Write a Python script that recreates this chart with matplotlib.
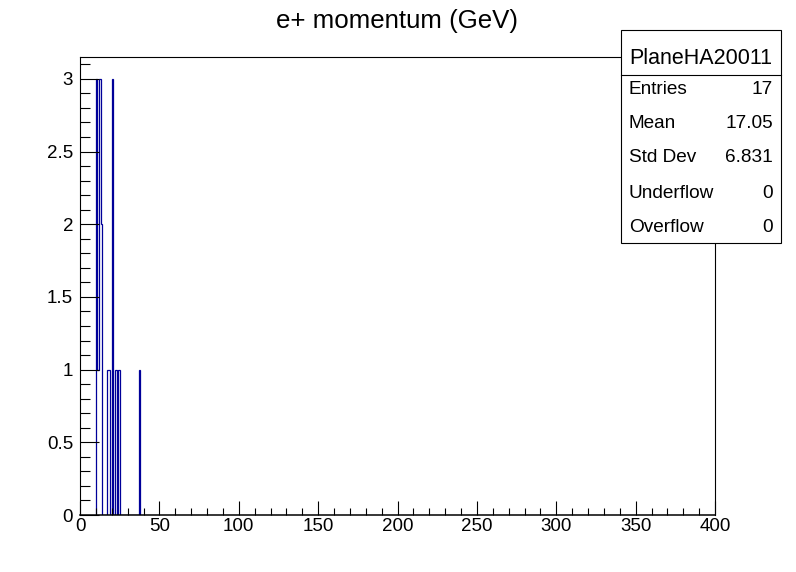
import numpy as np
import matplotlib
matplotlib.use('Agg')
import matplotlib.pyplot as plt
from matplotlib.patches import Rectangle
from matplotlib.lines import Line2D
from matplotlib.ticker import MultipleLocator

plt.rcParams['font.family'] = ['Liberation Sans', 'DejaVu Sans']

# Histograma: 400 bins de 1 GeV entre 0 y 400
bin_low = [10, 11, 12, 13, 17, 18, 20, 22, 24, 37]
counts = [3, 1, 3, 2, 1, 1, 3, 1, 1, 1]
n_bins, x_min, x_max = 400, 0, 400

title = 'e+ momentum (GeV)'
stat_name = 'PlaneHA20011'
stat_labels = ['Entries', 'Mean', 'Std Dev', 'Underflow', 'Overflow']
stat_values = ['17', '17.05', '6.831', '0', '0']

W, H = 796, 572
fig = plt.figure(figsize=(W / 100, H / 100), dpi=100)

def fx(px):
    return px / W

def fy(py):
    return 1 - py / H

ax = fig.add_axes([fx(80), fy(515), fx(715) - fx(80), fy(57) - fy(515)])

edges = np.linspace(x_min, x_max, n_bins + 1)
h = np.zeros(n_bins)
for b, c in zip(bin_low, counts):
    h[b] = c
# solo el tramo con contenido, para no pintar la linea base sobre el eje
i0, i1 = min(bin_low), max(bin_low) + 1
ax.stairs(h[i0:i1], edges[i0:i1 + 1], color='#000099', lw=0.9, zorder=1)

ax.set_xlim(x_min, x_max)
ax.set_ylim(0, max(counts) * 1.05)

ax.xaxis.set_major_locator(MultipleLocator(50))
ax.xaxis.set_minor_locator(MultipleLocator(10))
ax.yaxis.set_major_locator(MultipleLocator(0.5))
ax.yaxis.set_minor_locator(MultipleLocator(0.1))
ax.yaxis.set_major_formatter(plt.FuncFormatter(lambda v, p: f'{v:g}'))

ax.tick_params(axis='both', which='both', direction='in', top=False, right=False,
               width=0.8, labelsize=13.5)
ax.tick_params(axis='x', which='major', length=9.9, pad=2)
ax.tick_params(axis='x', which='minor', length=5)
ax.tick_params(axis='y', which='major', length=13.7, pad=5)
ax.tick_params(axis='y', which='minor', length=6.9)
for s in ax.spines.values():
    s.set_linewidth(0.8)
    s.set_zorder(4)
ax.spines['bottom'].set_linewidth(1.1)

fig.text(fx(397), fy(21), title, fontsize=18.6, ha='center', va='center')

# Caja de estadisticas
bx0, bx1, by0, by1 = 621, 781, 30, 243
fig.add_artist(Rectangle((fx(bx0), fy(by1)), fx(bx1) - fx(bx0), fy(by0) - fy(by1),
                         transform=fig.transFigure, facecolor='white',
                         edgecolor='black', lw=0.8, zorder=5))
fig.add_artist(Line2D([fx(bx0), fx(bx1)], [fy(75), fy(75)], transform=fig.transFigure,
                      color='black', lw=0.8, zorder=6))
fig.text(fx((bx0 + bx1) / 2), fy(58), stat_name, fontsize=15.5, ha='center',
         va='center', zorder=7)
rows_y = [90, 124, 158, 193, 227]
for lab, val, yy in zip(stat_labels, stat_values, rows_y):
    fig.text(fx(629), fy(yy), lab, fontsize=13.7, ha='left', va='center', zorder=7)
    fig.text(fx(773), fy(yy), val, fontsize=13.7, ha='right', va='center', zorder=7)

fig.savefig('out.png', dpi=100)
